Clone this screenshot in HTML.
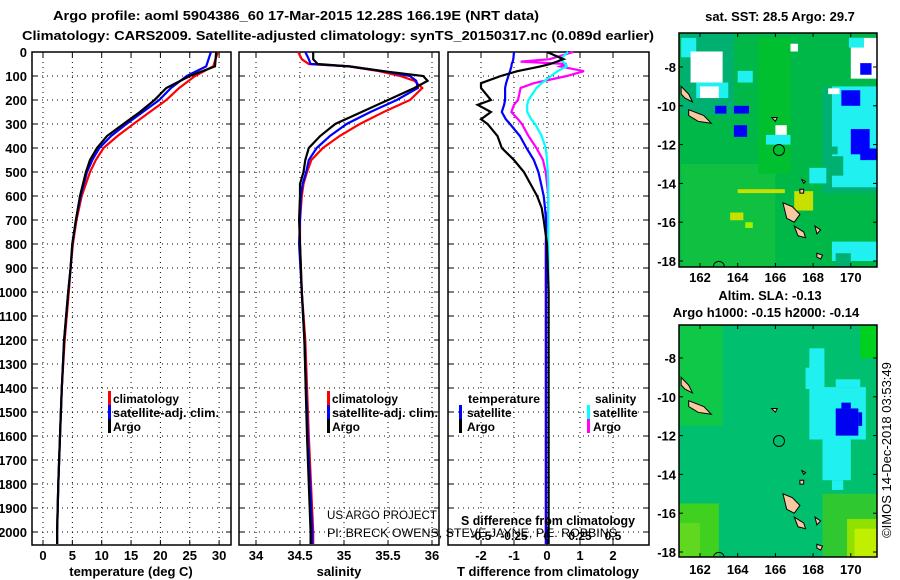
<!DOCTYPE html>
<html><head><meta charset="utf-8"><style>
html,body{margin:0;padding:0;background:#fff;}
svg{display:block;font-family:"Liberation Sans",sans-serif;}
.b{font-weight:bold;font-size:13px;}
.l{font-weight:bold;font-size:12px;}
</style></head><body>
<svg id="chart" width="900" height="580" viewBox="0 0 900 580" xmlns="http://www.w3.org/2000/svg">
<text class="b" x="53" y="20" textLength="486" lengthAdjust="spacingAndGlyphs">Argo profile: aoml 5904386_60 17-Mar-2015 12.28S 166.19E (NRT data)</text>
<text class="b" x="22" y="40" textLength="632" lengthAdjust="spacingAndGlyphs">Climatology: CARS2009. Satellite-adjusted climatology: synTS_20150317.nc (0.089d earlier)</text>
<g id="g"></g>
<text x="891" y="450" transform="rotate(-90 891 450)" text-anchor="middle" font-size="13">©IMOS 14-Dec-2018 03:53:49</text>
</svg>
<script>
// ---- data ----
const tDepth=[0,60,100,150,200,250,300,350,400,450,500,600,700,800,900,1000,1200,1400,1600,1800,2000,2050];
const tArgo=[29.5,29.3,25,21,19,16.5,13.7,10.9,9.2,8,7.3,6.3,5.6,5.0,4.7,4.3,3.6,3.2,2.9,2.6,2.4,2.4];
const tClim=[29.8,29.0,25.9,23.2,21,18.2,15.4,12.7,10.3,9,8,6.6,5.7,5.1,4.7,4.4,3.7,3.2,2.9,2.6,2.4,2.4];
const tSat=[28.6,27.8,24.5,21.8,19.8,17.0,14.2,11.6,9.6,8.4,7.5,6.4,5.6,5.0,4.7,4.3,3.6,3.2,2.9,2.6,2.4,2.4];
const sDepth=[0,30,50,60,80,100,120,150,200,250,300,350,400,450,500,550,600,700,800,1000,1200,1600,2000,2050];
const sArgo=[34.65,34.65,34.7,35.06,35.45,35.9,35.95,35.8,35.5,35.2,34.9,34.73,34.6,34.56,34.54,34.5,34.5,34.49,34.5,34.52,34.55,34.58,34.62,34.62];
const sClim=[34.48,34.52,34.6,35.06,35.4,35.64,35.8,35.89,35.75,35.45,35.18,34.95,34.76,34.63,34.58,34.54,34.52,34.5,34.5,34.52,34.56,34.6,34.65,34.65];
const sSat=[34.56,34.6,34.62,35.06,35.45,35.75,35.82,35.84,35.6,35.3,35.03,34.84,34.69,34.6,34.57,34.53,34.51,34.5,34.49,34.52,34.55,34.59,34.64,34.64];
const dDepth=[0,30,40,50,60,80,100,130,150,200,220,250,280,300,350,400,450,500,550,600,650,700,800,1000,1500,2050];
const dtArgo=[0,0.5,0.3,0.1,-0.2,-0.9,-1.4,-2.0,-2.0,-1.7,-2.1,-1.7,-2.0,-1.8,-1.5,-1.37,-1.0,-0.7,-0.5,-0.3,-0.16,-0.1,0,0.05,0.05,0.05];
const dtSat=[-1.0,-1.02,-1.04,-1.07,-1.08,-1.12,-1.17,-1.24,-1.27,-1.27,-1.3,-1.37,-1.25,-1.12,-0.82,-0.62,-0.4,-0.26,-0.18,-0.1,-0.06,-0.03,-0.03,-0.03,-0.03,-0.03];
const dsArgo=[0.2,0.02,-0.2,0.15,0.1,0.28,0.15,-0.1,-0.2,-0.22,-0.25,-0.27,-0.22,-0.19,-0.14,-0.08,-0.03,-0.01,0,0.01,0.01,0,-0.01,-0.01,-0.01,-0.01];
const dsCyan=[0.16,0.1,0.12,0.14,0.15,0.08,0.03,-0.04,-0.08,-0.14,-0.15,-0.15,-0.12,-0.09,-0.04,-0.01,0,0.005,0.01,0.01,0.01,0.01,0.01,0.012,0.012,0.012];
const depthTicks=[0,100,200,300,400,500,600,700,800,900,1000,1100,1200,1300,1400,1500,1600,1700,1800,1900,2000];
const tTicks=[0,5,10,15,20,25,30];
const sTicks=[34,34.5,35,35.5,36];
const sTickLabels=["34","34.5","35","35.5","36"];
const dTicks=[-2,-1,0,1,2];
const dsTicks=[-0.5,-0.25,0,0.25,0.5];
const dsTickLabels=["-0.5","-0.25","0","0.25","0.5"];
const lonTicks=[162,164,166,168,170];
const latTicks=[-8,-10,-12,-14,-16,-18];

const NS="http://www.w3.org/2000/svg";
const G=document.getElementById('g');
function mk(tag,attrs,parent){const e=document.createElementNS(NS,tag);for(const k in attrs)e.setAttribute(k,attrs[k]);(parent||G).appendChild(e);return e;}
const yD=d=>52+d*0.24;
const PT=[32,231],PS=[239,439],PD=[448,649],PY=[52,545];
const xT=v=>43+v*5.87, xS=v=>256+(v-34)*88, xD=v=>547+v*33, xDS=v=>547+v*132;

function panel(name,P,ticks,xf,labels){
  const g=mk('g',{});
  
  
  ticks.forEach((t,i)=>{const x=xf(t);
    const l=mk('line',{x1:x,x2:x,y1:PY[0],y2:PY[1],stroke:'#000','stroke-width':1,'stroke-dasharray':'1,4'},g);
    
    mk('line',{x1:x,x2:x,y1:PY[1],y2:PY[1]-5,stroke:'#000'},g);
    mk('line',{x1:x,x2:x,y1:PY[0],y2:PY[0]+5,stroke:'#000'},g);
    const tx=mk('text',{x:x,y:560,'text-anchor':'middle',class:'b'},g);tx.textContent=labels?labels[i]:String(t);
    
  });
  depthTicks.forEach(d=>{const y=yD(d);
    const l=mk('line',{x1:P[0],x2:P[1],y1:y,y2:y,stroke:'#000','stroke-width':1,'stroke-dasharray':'1,4'},g);
    
    mk('line',{x1:P[0],x2:P[0]+5,y1:y,y2:y,stroke:'#000'},g);
    mk('line',{x1:P[1],x2:P[1]-5,y1:y,y2:y,stroke:'#000'},g);
  });
  const r=mk('rect',{x:P[0],y:PY[0],width:P[1]-P[0],height:PY[1]-PY[0],fill:'none',stroke:'#000','stroke-width':1.5},g);
  
  return g;
}
function line(depths,vals,xf,color,name,w){
  const pts=depths.map((d,i)=>xf(vals[i]).toFixed(1)+','+yD(d).toFixed(1)).join(' ');
  const p=mk('polyline',{points:pts,fill:'none',stroke:color,'stroke-width':w||2.2});
  
}
function txt(x,y,s,name,attrs){const t=mk('text',Object.assign({x:x,y:y},attrs||{class:'b'}));t.textContent=s;
  return t;}
function bar(x,y,c){const r=mk('rect',{x:x,y:y-12,width:3,height:14,fill:c});}

panel('temperature-panel',PT,tTicks,xT);
panel('salinity-panel',PS,sTicks,xS,sTickLabels);
panel('difference-panel',PD,dTicks,xD);
depthTicks.forEach(d=>{txt(27,yD(d)+5,String(d),'y-tick-label',{class:'b','text-anchor':'end'});});

line(tDepth,tClim,xT,'#f00','temperature-climatology-line');
line(tDepth,tSat,xT,'#00f','temperature-satellite-line');
line(tDepth,tArgo,xT,'#000','temperature-argo-line');
line(sDepth,sClim,xS,'#f00','salinity-climatology-line');
line(sDepth,sSat,xS,'#00f','salinity-satellite-line');
line(sDepth,sArgo,xS,'#000','salinity-argo-line');
line(dDepth,dsArgo,xDS,'#f0f','s-diff-argo-line');
line(dDepth,dsCyan,xDS,'#0ff','s-diff-satellite-line');
line(dDepth,dtSat,xD,'#00f','t-diff-satellite-line');
line(dDepth,dtArgo,xD,'#000','t-diff-argo-line');

// legends
[[108,'temperature'],[327,'salinity']].forEach(([x,k])=>{
  bar(x,403,'#f00');txt(x+5,403,'climatology','legend-climatology',{class:'l',textLength:66,lengthAdjust:'spacingAndGlyphs'});
  bar(x,417,'#00f');txt(x+5,417,'satellite-adj. clim.','legend-satellite',{class:'l',textLength:106,lengthAdjust:'spacingAndGlyphs'});
  bar(x,431,'#000');txt(x+5,431,'Argo','legend-argo',{class:'l'});
});
txt(468,403,'temperature','legend-temperature-header',{class:'l',textLength:72,lengthAdjust:'spacingAndGlyphs'});
bar(459,417,'#00f');txt(467,417,'satellite','legend-t-satellite',{class:'l'});
bar(459,431,'#000');txt(467,431,'Argo','legend-t-argo',{class:'l'});
txt(595,403,'salinity','legend-salinity-header',{class:'l'});
bar(587,417,'#0ff');txt(593,417,'satellite','legend-s-satellite',{class:'l'});
bar(587,431,'#f0f');txt(593,431,'Argo','legend-s-argo',{class:'l'});
txt(327,519,'US ARGO PROJECT','credit-project',{'font-size':12,textLength:110,lengthAdjust:'spacingAndGlyphs'});
txt(327,537,'PI: BRECK OWENS, STEVE JAYNE, P.E. ROBBINS','credit-pi',{'font-size':12,textLength:290,lengthAdjust:'spacingAndGlyphs'});
txt(461,525,'S difference from climatology','s-diff-axis-title',{class:'b',textLength:174,lengthAdjust:'spacingAndGlyphs'});
dsTicks.forEach((v,i)=>txt(xDS(v),540,dsTickLabels[i],'s-diff-tick-label',{class:'l','text-anchor':'middle'}));
txt(131,576,'temperature (deg C)','temperature-axis-title',{class:'b','text-anchor':'middle'});
txt(339,576,'salinity','salinity-axis-title',{class:'b','text-anchor':'middle'});
txt(548,576,'T difference from climatology','t-diff-axis-title',{class:'b','text-anchor':'middle'});

// ---- maps ----
function map(name,x0,y0,y1,lat8y,lat18y,title,build,labY){
  const g=mk('g',{});
  const X=lon=>700+(lon-162)*18.85, Y=lat=>lat8y+(-8-lat)*(lat18y-lat8y)/10;
  const cp='cp'+name;const c=mk('clipPath',{id:cp},g);mk('rect',{x:679,y:y0,width:198,height:y1-y0},c);
  const inner=mk('g',{'clip-path':'url(#'+cp+')'},g);
  build(inner,X,Y);
  mk('rect',{x:679,y:y0,width:198,height:y1-y0,fill:'none',stroke:'#000','stroke-width':1.5},g);
  lonTicks.forEach(l=>{mk('line',{x1:X(l),x2:X(l),y1:y1,y2:y1-4,stroke:'#000'},g);mk('line',{x1:X(l),x2:X(l),y1:y0,y2:y0+4,stroke:'#000'},g);
    txt(X(l),labY,String(l),'map-lon-label',{class:'b','text-anchor':'middle'});});
  latTicks.forEach(l=>{mk('line',{x1:679,x2:683,y1:Y(l),y2:Y(l),stroke:'#000'},g);mk('line',{x1:877,x2:873,y1:Y(l),y2:Y(l),stroke:'#000'},g);
    txt(676,Y(l)+5,String(l),'map-lat-label',{class:'b','text-anchor':'end'});});
  return {X,Y,g};
}
function islands(p,X,Y){
  const polys=[[[161,-9],[161.4,-9.4],[161.6,-9.8],[161.2,-9.6],[161,-9.4]],
   [[161.4,-10.2],[162.2,-10.5],[162.6,-10.9],[161.9,-10.8],[161.4,-10.5]],
   [[166.4,-15],[166.9,-15.2],[167.3,-15.6],[167,-16],[166.6,-15.8],[166.5,-15.4]],
   [[167,-16.2],[167.5,-16.5],[167.6,-16.8],[167.2,-16.7]],
   [[168.1,-16.2],[168.4,-16.4],[168.2,-16.6]],[[168.2,-17.6],[168.5,-17.7],[168.4,-17.9],[168.2,-17.8]],
   [[165.8,-10.6],[166.1,-10.6],[166,-10.8]],[[167.3,-14.3],[167.5,-14.3],[167.5,-14.5],[167.3,-14.5]],
   [[167.4,-13.8],[167.6,-13.9],[167.5,-14]]];
  polys.forEach(pl=>{const e=mk('polygon',{points:pl.map(q=>X(q[0])+','+Y(q[1])).join(' '),fill:'#fac8a0',stroke:'#000','stroke-width':1},p);
    });
  const c=mk('circle',{cx:X(166.19),cy:Y(-12.28),r:5.5,fill:'none',stroke:'#000'},p);
  mk('circle',{cx:X(163),cy:Y(-18.3),r:5.5,fill:'none',stroke:'#000'},p);
}
function rects(p,X,Y,list){list.forEach(([a,b,c,d,col])=>mk('rect',{x:X(a),y:Y(b),width:X(c)-X(a),height:Y(d)-Y(b),fill:col},p));}

map('sst-map',679,33,267,67,261,'',(p,X,Y)=>{
  rects(p,X,Y,[[160,-6,172,-19,'#00b848'],
   [161,-6,163.8,-10.5,'#00b070'],[168.5,-9,172,-14.5,'#00b070'],[161,-13,166,-18.5,'#10c040'],
   [161,-6.5,161.8,-7.5,'#20f0f0'],[161.5,-7.2,163.2,-8.8,'#fff'],[161.8,-8.8,163.5,-9.6,'#20f0f0'],[162,-9,163,-9.6,'#fff'],
   [164,-8.2,164.8,-8.8,'#20f0f0'],[162.8,-10,163.4,-10.4,'#00f'],[163.8,-11,164.5,-11.6,'#00f'],[163.8,-10,164.6,-10.4,'#00f'],
   [170,-6.5,172,-8.6,'#fff'],[170.5,-7.8,171.1,-8.4,'#00f'],[169.9,-6.5,170.7,-7,'#20f0f0'],
   [169,-9,171.5,-14.2,'#20f0f0'],[169.5,-9.2,170.5,-10,'#00f'],[170,-11.2,171,-12.5,'#00f'],[170.5,-12.2,171.5,-12.8,'#00f'],
   [168.7,-12.1,169.3,-12.5,'#00b070'],[168.8,-12.6,169.6,-13.6,'#00b070'],
   [167.8,-13.2,168.7,-14,'#20f0f0'],[167,-14.4,168,-15.4,'#c8e000'],[164,-14.3,166.5,-14.5,'#c8e000'],[163.6,-15.5,164.3,-15.9,'#c8e000'],[164.4,-16,164.8,-16.3,'#a0f000'],
   [166.5,-6.8,167.2,-7.2,'#fff'],[165.9,-9,166.3,-9.4,'#fff'],[168.8,-9.1,169.4,-9.4,'#fff'],[166.3,-12.6,166.6,-12.9,'#c8e000'],
   [165.1,-6.5,166.8,-13.5,'#00c030'],[166,-11,166.6,-11.6,'#fff'],[165.5,-11.5,166.8,-12,'#20f0f0'],[169,-17,171.5,-18,'#20f0f0'],[169.2,-17.6,170,-18.5,'#00b070']]);
  islands(p,X,Y);
},282);
txt(780,21,'sat. SST: 28.5 Argo: 29.7','sst-map-title',{class:'b','text-anchor':'middle'});

map('sla-map',679,325,557,358,552,'',(p,X,Y)=>{
  rects(p,X,Y,[[160,-6,172,-19,'#00c070'],[160,-6,163.2,-11.5,'#10c848'],[160,-15.5,163,-19,'#40d020'],[160,-16.5,162,-19,'#60d820'],
   [170.5,-6,172,-8,'#00d020'],[168.5,-15,172,-19,'#30c830'],[169.8,-16.3,172,-19,'#90e000'],[170.2,-16.8,172,-18.5,'#c0f000'],
   [167.8,-7.5,168.6,-9.5,'#20f0f0'],[167.6,-8.5,168.6,-9.6,'#20f0f0'],[167.8,-9.5,170.8,-12.2,'#20f0f0'],[169.2,-9.1,170.5,-9.5,'#20f0f0'],[168.5,-12,170,-14.3,'#20f0f0'],[169,-14.3,169.6,-14.8,'#20f0f0'],
   [169.2,-10.6,170.4,-12,'#0000f0'],[169.5,-10.3,170,-10.6,'#0000f0'],[170.4,-10.8,170.6,-11.5,'#0000f0']]);
  islands(p,X,Y);
},574);
txt(770,300,'Altim. SLA: -0.13','sla-map-title-1',{class:'b','text-anchor':'middle'});
txt(766,317,'Argo h1000: -0.15 h2000: -0.14','sla-map-title-2',{class:'b','text-anchor':'middle'});
</script>
</body></html>
